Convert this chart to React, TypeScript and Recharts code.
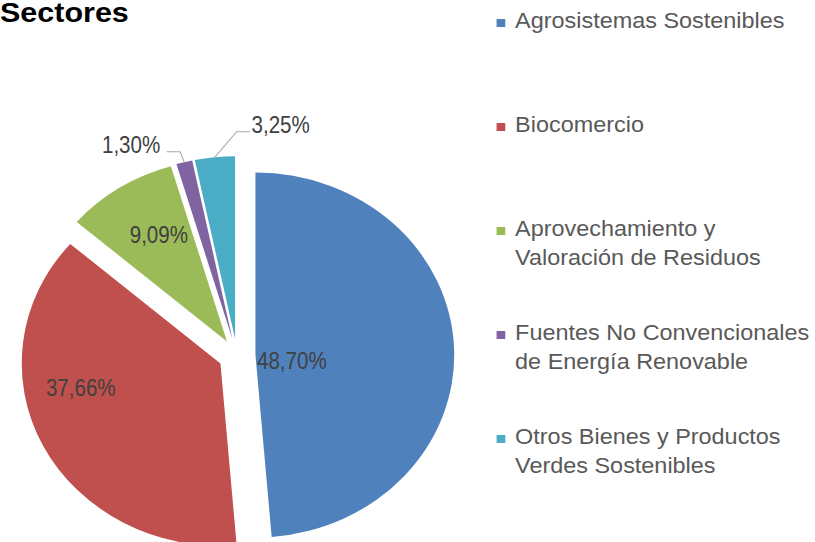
import React from 'react';
import { PieChart, Pie, Cell, Legend } from 'recharts';

// Sector shares (percent), clockwise from 12 o'clock
const SECTORS = [
  'Agrosistemas Sostenibles',
  'Biocomercio',
  'Aprovechamiento y\nValoración de Residuos',
  'Fuentes No Convencionales\nde Energía Renovable',
  'Otros Bienes y Productos\nVerdes Sostenibles',
];
const SHARES = [48.7, 37.66, 9.09, 1.3, 3.25];
const COLORS = ['#4f81bd', '#c0504d', '#9bbb59', '#8064a2', '#4bacc6'];

const data = SECTORS.map((name, i) => ({ name, value: SHARES[i] }));

// the whole figure is drawn a bit wider than tall
const STRETCH = 1.089;
const W = 748;
const H = 542;
const CX = 217.6;
const CY = 355.7;
const R = 182.5;
const EXPLODE = 17;
const RAD = Math.PI / 180;

// where each percentage sits, polar from its own slice centre (deg clockwise from top)
const LABEL_LAYOUT = [
  { inside: true, r: 33.8, a: 98.5, run: 0 },
  { inside: true, r: 130.4, a: 259.6, run: 0 },
  { inside: true, r: 124.3, a: 329.8, run: 0 },
  { inside: false, r: 193.6, a: 345.6, run: -12.2 },
  { inside: false, r: 207.1, a: 0.4, run: 12.2 },
];

const total = SHARES.reduce((s, v) => s + v, 0);
const midAngles = SHARES.map((v, i) => {
  const before = SHARES.slice(0, i).reduce((s, x) => s + x, 0);
  return ((before + v / 2) / total) * 360;
});

const fmt = (v: number) => `${v.toFixed(2).replace('.', ',')}%`;

// labels use a condensed face; squeeze the regular one to narrow-font advance widths
const NARROW_EM: Record<string, number> = { ',': 0.228, '%': 0.729 };
const narrowWidth = (s: string, size: number) =>
  s.split('').reduce((w, ch) => w + (NARROW_EM[ch] ?? 0.456), 0) * size;

const labelFont = {
  fontFamily: "'Liberation Sans', Arial, sans-serif",
  fontSize: 24,
  fill: '#404040',
};

const LabelText = ({ x, y, anchor, text, central }: any) => (
  <text
    x={x}
    y={y}
    textAnchor={anchor}
    dominantBaseline={central ? 'central' : 'auto'}
    textLength={narrowWidth(text, 23)}
    lengthAdjust="spacingAndGlyphs"
    {...labelFont}
  >
    {text}
  </text>
);

const renderLabel = (slice: number) => (props: any) => {
  if (props.index !== slice) return null;
  const { cx, cy, outerRadius, midAngle, value } = props;
  const spot = LABEL_LAYOUT[slice];
  const at = (r: number, a: number) => [cx + r * Math.sin(a * RAD), cy - r * Math.cos(a * RAD)];

  if (spot.inside) {
    const [x, y] = at(spot.r, spot.a);
    return <LabelText x={x} y={y} anchor="middle" central text={fmt(value)} />;
  }

  const [sx, sy] = at(outerRadius, 90 - midAngle);
  const [ex, ey] = at(spot.r, spot.a);
  const lx = ex + spot.run;
  const toRight = spot.run > 0;
  return (
    <g>
      <polyline points={`${sx},${sy} ${ex},${ey} ${lx},${ey}`} fill="none" stroke="#a6a6a6" strokeWidth={1} />
      <LabelText
        x={toRight ? lx + 1.5 : lx - 6}
        y={ey + 1}
        anchor={toRight ? 'start' : 'end'}
        text={fmt(value)}
      />
    </g>
  );
};

const SectorLegend = () => (
  <div style={{ position: 'relative', width: 290, height: H }}>
    {SECTORS.map((name, i) => (
      <div key={name} style={{ position: 'absolute', left: 0, top: 7 + i * 104 }}>
        <span
          style={{ position: 'absolute', left: 0, top: 12, width: 8, height: 8, background: COLORS[i] }}
        />
        <div
          style={{
            marginLeft: 17,
            whiteSpace: 'pre-line',
            fontSize: 21.5,
            lineHeight: '29px',
            color: '#595959',
          }}
        >
          {name}
        </div>
      </div>
    ))}
  </div>
);

export default function App() {
  return (
    <div
      style={{
        position: 'absolute',
        left: 0,
        top: 0,
        width: W,
        height: H,
        transform: `scaleX(${STRETCH})`,
        transformOrigin: '0 0',
        fontFamily: "'Liberation Sans', Arial, sans-serif",
        background: '#fff',
      }}
    >
      <div
        style={{
          position: 'absolute',
          left: 0,
          top: -1,
          fontSize: 28,
          lineHeight: '28px',
          fontWeight: 'bold',
          color: '#000',
        }}
      >
        Sectores
      </div>
      <PieChart width={W} height={H} margin={{ top: 0, right: 0, bottom: 0, left: 0 }}>
        {SHARES.map((_, slice) => (
          <Pie
            key={slice}
            data={data}
            dataKey="value"
            nameKey="name"
            cx={CX + EXPLODE * Math.sin(midAngles[slice] * RAD)}
            cy={CY - EXPLODE * Math.cos(midAngles[slice] * RAD)}
            outerRadius={R}
            startAngle={90}
            endAngle={-270}
            stroke="none"
            labelLine={false}
            label={renderLabel(slice)}
            legendType="none"
            isAnimationActive={false}
          >
            {data.map((entry, i) => (
              <Cell key={entry.name} fill={i === slice ? COLORS[i] : 'none'} stroke="none" />
            ))}
          </Pie>
        ))}
        <Legend
          layout="vertical"
          align="right"
          verticalAlign="top"
          content={<SectorLegend />}
          wrapperStyle={{ left: 456, right: 'auto', top: 0, width: 290, height: H }}
        />
      </PieChart>
    </div>
  );
}
